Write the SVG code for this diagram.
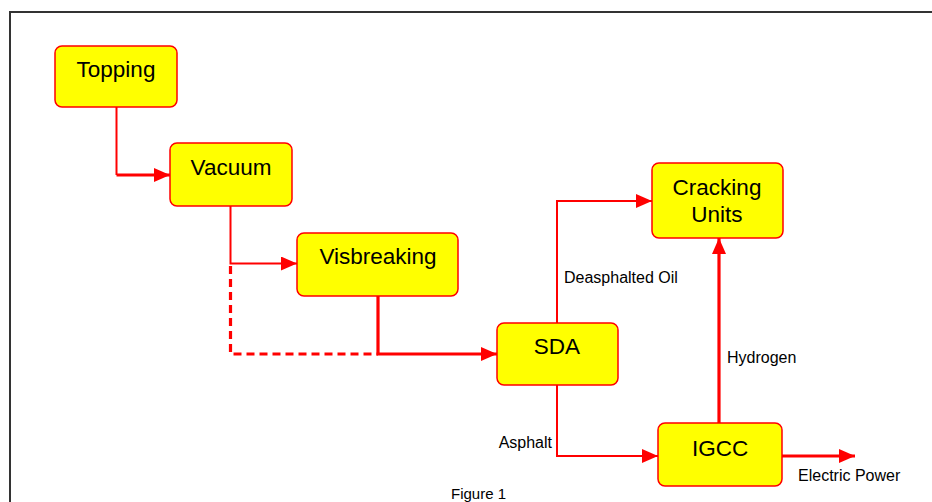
<svg xmlns="http://www.w3.org/2000/svg" width="932" height="502" viewBox="0 0 932 502">
  <style>
    .node rect { fill: #ffff00; stroke: #ff0000; stroke-width: 1.5; }
    .node text { font-family: "Liberation Sans", Arial, sans-serif; font-size: 22.5px; fill: #000; text-anchor: middle; }
    .link { fill: none; stroke: #ff0000; stroke-width: 2; }
    .thick { stroke-width: 3.2; }
    .dashed { stroke-dasharray: 8 5; }
    .label { font-family: "Liberation Sans", Arial, sans-serif; font-size: 16px; fill: #000; }
    .caption { font-family: "Liberation Sans", Arial, sans-serif; font-size: 15px; fill: #000; }
  </style>
  <defs>
    <marker id="arrow" markerUnits="userSpaceOnUse" markerWidth="16" markerHeight="14" refX="16" refY="7" orient="auto">
      <path d="M0,0 L16,7 L0,14 z" fill="#ff0000"/>
    </marker>
  </defs>

  <rect width="932" height="502" fill="#ffffff"/>
  <!-- page frame -->
  <rect x="10" y="12" width="940" height="520" fill="none" stroke="#333333" stroke-width="2"/>

  <g id="connectors">
    <path class="link" d="M116.5,107 V175"/>
    <path class="link thick" d="M116.5,175 H170" marker-end="url(#arrow)"/>
    <path class="link" d="M230.5,206 V263.5 H297" marker-end="url(#arrow)"/>
    <path class="link thick dashed" d="M230.5,266 V354 H378"/>
    <path class="link thick" d="M378,296 V354 H497" marker-end="url(#arrow)"/>
    <path class="link" d="M557,323 V201 H652" marker-end="url(#arrow)"/>
    <path class="link" d="M557,385 V456 H658" marker-end="url(#arrow)"/>
    <path class="link thick" d="M719,423 V238" marker-end="url(#arrow)"/>
    <path class="link thick" d="M782,456 H855" marker-end="url(#arrow)"/>
  </g>

  <g id="labels">
    <text class="label" x="564" y="283">Deasphalted Oil</text>
    <text class="label" x="727" y="363">Hydrogen</text>
    <text class="label" x="552" y="448" text-anchor="end">Asphalt</text>
    <text class="label" x="798" y="481">Electric Power</text>
    <text class="caption" x="451" y="499">Figure 1</text>
  </g>

  <g id="topping" class="node">
    <rect x="55" y="46" width="122" height="61" rx="7"/>
    <text x="116" y="77">Topping</text>
  </g>
  <g id="vacuum" class="node">
    <rect x="170" y="143" width="122" height="63" rx="7"/>
    <text x="231" y="175">Vacuum</text>
  </g>
  <g id="visbreaking" class="node">
    <rect x="297" y="233" width="161" height="63" rx="7"/>
    <text x="378" y="264">Visbreaking</text>
  </g>
  <g id="sda" class="node">
    <rect x="497" y="323" width="121" height="62" rx="7"/>
    <text x="557" y="354">SDA</text>
  </g>
  <g id="cracking" class="node">
    <rect x="652" y="163" width="131" height="75" rx="7"/>
    <text x="717" y="195">Cracking</text>
    <text x="717" y="222">Units</text>
  </g>
  <g id="igcc" class="node">
    <rect x="658" y="423" width="124" height="63" rx="7"/>
    <text x="720" y="456">IGCC</text>
  </g>
</svg>
